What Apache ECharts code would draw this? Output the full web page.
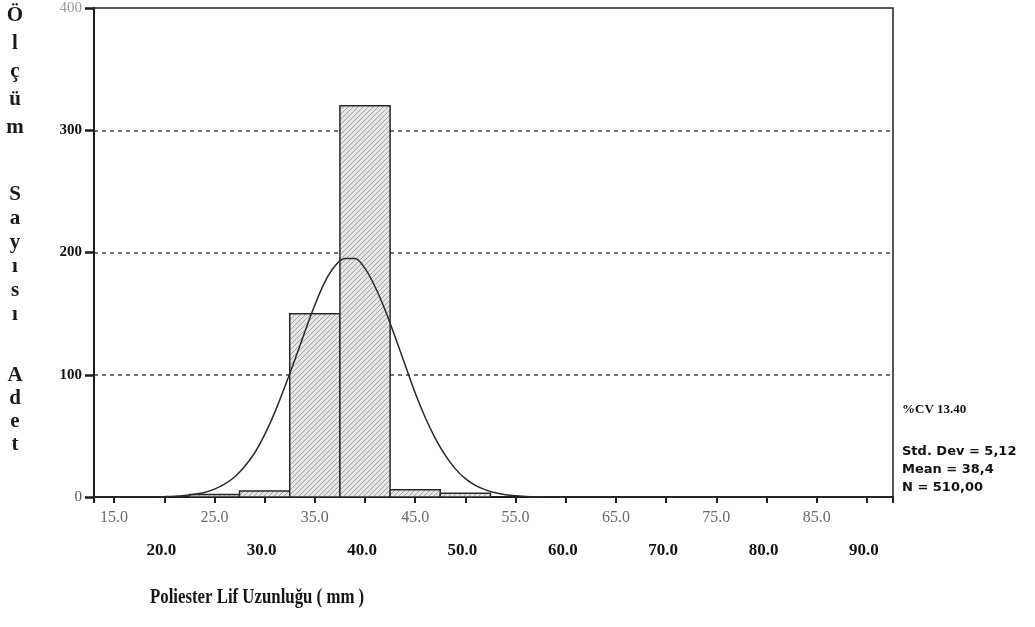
<!DOCTYPE html>
<html>
<head>
<meta charset="utf-8">
<script src="https://cdn.jsdelivr.net/npm/echarts@6/dist/echarts.min.js"></script>
<style>
html,body{margin:0;padding:0;background:#fff;}
#c{width:1035px;height:627px;}
</style>
</head>
<body>
<div id="c"></div>
<script>
// ---- data ----
const binWidth = 5;
const binCenters = [25, 30, 35, 40, 45, 50];
const binCounts = [2, 5, 150, 320, 6, 3];
const curveX = [13, 15, 17, 18, 19, 20, 21, 22, 23, 24, 25, 26, 27, 28, 29, 30, 31, 32, 33, 34, 35, 36, 37, 38, 39, 40, 41, 42, 43, 44, 45, 46, 47, 48, 49, 50, 51, 52, 53, 54, 55, 56, 57, 58, 60, 65, 70, 75, 80, 85, 90, 92.6];
const curveY = [0, 0, 0, 0, 0.1, 0.3, 0.6, 1.2, 2.2, 3.7, 6.4, 10.5, 16.4, 25, 36, 51, 69, 90, 112, 135, 157, 176, 189, 195, 195, 187, 172, 153, 131, 108, 85, 65, 48, 34, 23, 15, 9.5, 5.8, 3.4, 1.9, 1, 0.5, 0.2, 0.1, 0, 0, 0, 0, 0, 0, 0, 0];
const xRange = [13, 92.6];
const yTicks = [0, 100, 200, 300, 400];
const yTitleWords = ['Ölçüm', 'Sayısı', 'Adet'];
const xTitle = 'Poliester Lif Uzunluğu ( mm )';
const statLines = ['Std. Dev = 5,12', 'Mean = 38,4', 'N = 510,00'];
const cvText = '%CV 13.40';

// ---- hatch pattern ----
const pc = document.createElement('canvas');
pc.width = 5; pc.height = 5;
const g = pc.getContext('2d');
g.fillStyle = '#e6e6e6'; g.fillRect(0, 0, 5, 5);
g.strokeStyle = '#a4a4a4'; g.lineWidth = 1;
g.beginPath(); g.moveTo(-1, 6); g.lineTo(6, -1); g.stroke();
const hatch = { image: pc, repeat: 'repeat' };

const chart = echarts.init(document.getElementById('c'));

const serif = 'Liberation Serif, DejaVu Serif, serif';

// vertical title letters (centre y of each letter)
const letterY = [[16, 44, 72, 100, 128], [195, 219, 243, 267, 291, 315], [376, 399, 422, 445]];
const graphics = [];
yTitleWords.forEach((w, wi) => {
  Array.from(w).forEach((ch, ci) => {
    graphics.push({
      type: 'text', x: 15, y: letterY[wi][ci],
      style: { text: ch, font: 'bold 21px ' + serif, fill: '#1a1a1a', textAlign: 'center', textVerticalAlign: 'middle' }
    });
  });
});

graphics.push({ type: 'text', x: 150, y: 598, scaleX: 0.8, originX: 0, originY: 0,
  style: { text: xTitle, font: 'bold 21px ' + serif, fill: '#151515', textVerticalAlign: 'middle' } });
graphics.push({ type: 'text', x: 902, y: 410,
  style: { text: cvText, font: 'bold 13px ' + serif, fill: '#111', textVerticalAlign: 'middle' } });
statLines.forEach((s, i) => {
  graphics.push({ type: 'text', x: 902, y: 452 + i * 18,
    style: { text: s, font: 'bold 13px DejaVu Sans, sans-serif', fill: '#111', textVerticalAlign: 'middle' } });
});

const xAxisBase = {
  type: 'value', min: xRange[0], max: xRange[1], minInterval: 5, maxInterval: 5, splitNumber: 16,
  position: 'bottom', splitLine: { show: false }
};

chart.setOption({
  animation: false,
  grid: { left: 94, top: 8, right: 142, bottom: 130, show: true, borderColor: '#222', borderWidth: 1.5, backgroundColor: 'transparent' },
  xAxis: [
    Object.assign({}, xAxisBase, {
      axisLine: { onZero: false, lineStyle: { color: '#1e1e1e', width: 2 } },
      axisTick: { show: true, length: 6, lineStyle: { color: '#1e1e1e', width: 2 } },
      axisLabel: {
        margin: 13, color: '#6a6a6a', fontFamily: serif, fontSize: 16,
        formatter: v => (Math.abs(v % 10 - 5) < 1e-6 ? v.toFixed(1) : '')
      }
    }),
    Object.assign({}, xAxisBase, {
      offset: 34,
      axisLine: { show: false }, axisTick: { show: false },
      axisLabel: {
        margin: 11, color: '#111', fontFamily: serif, fontSize: 17, fontWeight: 'bold',
        padding: [0, 6, 0, 0],
        formatter: v => (Math.abs(v % 10) < 1e-6 ? v.toFixed(1) : '')
      }
    })
  ],
  yAxis: {
    type: 'value', min: yTicks[0], max: yTicks[yTicks.length - 1], interval: 100,
    axisLine: { show: true, lineStyle: { color: '#1e1e1e', width: 2 } },
    axisTick: { show: true, length: 9, lineStyle: { color: '#1e1e1e', width: 2.5 } },
    axisLabel: {
      margin: 12,
      formatter: v => v === 400 ? '{l|' + v + '}' : (v === 0 ? '{z|' + v + '}' : '{b|' + v + '}'),
      rich: {
        l: { color: '#9a9a9a', fontFamily: serif, fontSize: 15 },
        z: { color: '#555', fontFamily: serif, fontSize: 15 },
        b: { color: '#111', fontFamily: serif, fontSize: 15, fontWeight: 'bold' }
      }
    },
    splitLine: { show: true, showMinLine: false, showMaxLine: false, lineStyle: { type: [4, 4], color: '#444', width: 1.5 } }
  },
  series: [
    {
      type: 'custom', xAxisIndex: 0,
      data: binCenters.map((c, i) => [c, binCounts[i]]),
      renderItem: (params, api) => {
        const x = api.value(0), y = api.value(1);
        const p0 = api.coord([x - binWidth / 2, y]);
        const p1 = api.coord([x + binWidth / 2, 0]);
        return {
          type: 'rect',
          shape: { x: p0[0], y: p0[1], width: p1[0] - p0[0], height: p1[1] - p0[1] },
          style: { fill: hatch, stroke: '#2a2a2a', lineWidth: 1.5 }
        };
      },
      z: 2
    },
    {
      type: 'line', xAxisIndex: 0, smooth: 0.3, showSymbol: false, symbol: 'none',
      data: curveX.map((x, i) => [x, curveY[i]]),
      lineStyle: { color: '#2a2a2a', width: 1.5 },
      z: 3
    }
  ],
  graphic: graphics
});
</script>
</body>
</html>
